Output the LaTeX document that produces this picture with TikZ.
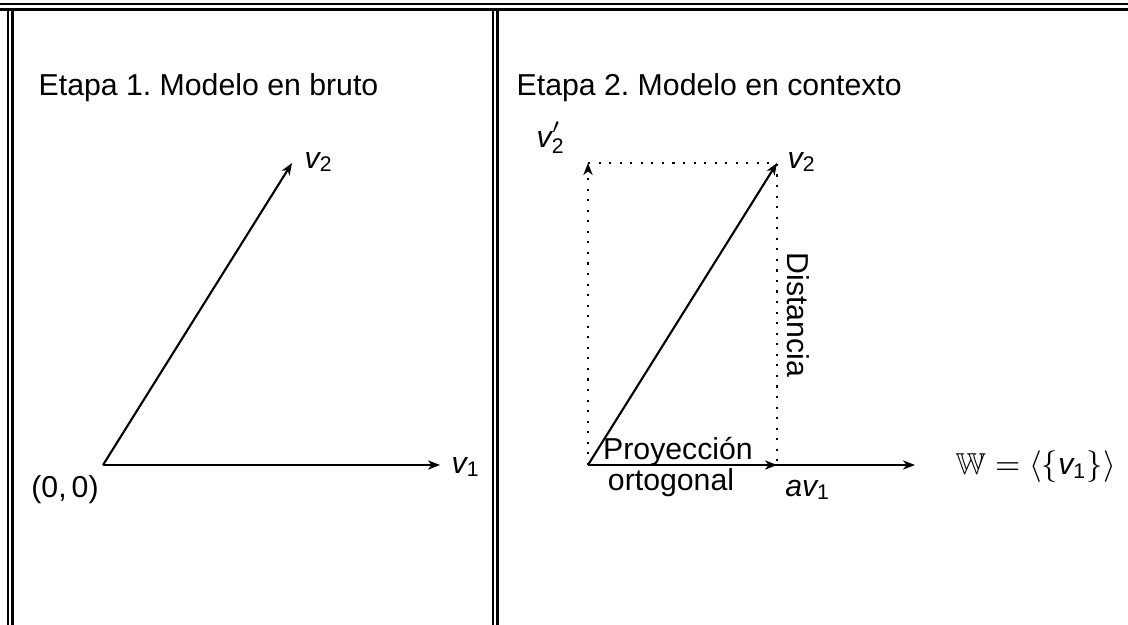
\documentclass[tikz,border=0pt]{standalone}
\usepackage{fontspec}
\setmainfont{Liberation Sans}
\usepackage{amsmath, amssymb}
\usetikzlibrary{arrows.meta, positioning}
\newcommand{\vsub}[1]{\ensuremath{\textit{v}_{\textrm{#1}}}}
\frenchspacing

\begin{document}
\begin{tikzpicture}[x=0.01cm, y=-0.01cm, font=\fontsize{8.6}{10.3}\selectfont,
	rule/.style={line width=0.75pt},
	vec/.style={line width=0.6pt, -{Stealth[length=3.4pt, width=2.6pt, inset=1pt]}},
	dots/.style={line width=0.6pt, dash pattern=on 0.6pt off 2.4pt},
	lbl/.style={inner sep=0pt}]
	\useasboundingbox (0,0) rectangle (1128,625);
	% tabla
	\draw[rule] (0,4) -- (1128,4);
	\draw[rule] (0,9.5) -- (1128,9.5);
	\draw[rule] (8,9.5) -- (8,625);
	\draw[rule] (12.5,9.5) -- (12.5,625);
	\draw[rule] (493,9.5) -- (493,625);
	\draw[rule] (497.5,9.5) -- (497.5,625);
	% etapa 1
	\node[lbl, anchor=base west] (t1) at (38,96) {Etapa 1. Modelo en bruto};
	\coordinate (oa) at (103,465);
	\coordinate (v1a) at (440,465);
	\coordinate (v2a) at (292,163);
	\draw[vec] (oa) -- (v1a);
	\draw[vec] (oa) -- (v2a);
	\node[lbl, anchor=west] (lv1a) at (451,467) {\vsub{1}};
	\node[lbl, anchor=west] (lv2a) at (304,162) {\vsub{2}};
	\node[lbl] (lo) at (65,490) {(0,\,0)};
	% etapa 2
	\node[lbl, anchor=base west] (t2) at (516,96) {Etapa 2. Modelo en contexto};
	\coordinate (ob) at (588,465);
	\coordinate (v2b) at (777,163);
	\coordinate (v2p) at (588,163);
	\coordinate (pb) at (777,465);
	\coordinate (wb) at (915,465);
	\draw[vec] (ob) -- (wb);
	\draw[vec] (ob) -- (pb);
	\draw[vec] (ob) -- (v2b);
	\draw[dots] (v2p) -- (v2b) -- (pb);
	\draw[dots, -{Stealth[length=3.4pt, width=2.6pt, inset=1pt]}] (ob) -- (v2p);
	\node[lbl] (lv2p) at (551,138) {$\textit{v}'_{\textrm{2}}$};
	\node[lbl, anchor=west] (lv2b) at (787,162) {\vsub{2}};
	\node[lbl, rotate=-90] (dist) at (798,315) {Distancia};
	\node[lbl, anchor=base] (proy) at (678,459) {Proyecci\'on};
	\node[lbl, anchor=base] (orto) at (671,490) {ortogonal};
	\node[lbl] (lav) at (808,490) {\textit{a}\vsub{1}};
	\node[lbl, anchor=west] (lw) at (955,467) {$\mathbb{W} = \langle\{\text{\vsub{1}}\}\rangle$};
\end{tikzpicture}
\end{document}
